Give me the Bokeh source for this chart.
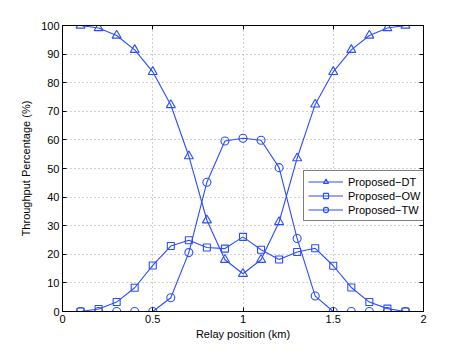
from bokeh.plotting import figure
from bokeh.models import LinearAxis, Legend, LegendItem, Range1d, FixedTicker
from bokeh.embed import file_html
from bokeh.resources import INLINE

relay_km = [0.1, 0.2, 0.3, 0.4, 0.5, 0.6, 0.7, 0.8, 0.9, 1.0,
            1.1, 1.2, 1.3, 1.4, 1.5, 1.6, 1.7, 1.8, 1.9]
proposed_dt = [100, 99.1, 96.5, 91.5, 83.8, 72.2, 54.3, 31.9, 18.1, 13.2,
               18.1, 31.3, 53.6, 72.4, 83.8, 91.5, 96.5, 99.1, 100]
proposed_ow = [0, 0.9, 3.3, 8.3, 16.1, 22.9, 24.9, 22.4, 22.0, 26.1,
               21.6, 18.2, 20.8, 22.1, 16.0, 8.4, 3.3, 1.0, 0]
proposed_tw = [0, 0, 0, 0, 0, 4.8, 20.6, 45.2, 59.6, 60.6,
               59.9, 50.3, 25.5, 5.4, 0, 0, 0, 0, 0]
series_names = ["Proposed\u2212DT", "Proposed\u2212OW", "Proposed\u2212TW"]
x_ticks = [0, 0.5, 1, 1.5, 2]
y_ticks = [0, 10, 20, 30, 40, 50, 60, 70, 80, 90, 100]

BLUE = "#2a4dff"
FONT = "Liberation Sans"

p = figure(width=459, height=343, output_backend="svg", toolbar_location=None,
           x_range=Range1d(0, 2), y_range=Range1d(0, 100),
           min_border_left=62, min_border_right=36, min_border_top=25, min_border_bottom=32)
p.xaxis.axis_label = "Relay position (km)"
p.yaxis.axis_label = "Throughput Percentage (%)"

for ax, ticks in ((p.xaxis, x_ticks), (p.yaxis, y_ticks)):
    ax.ticker = FixedTicker(ticks=ticks)
    ax.major_tick_in = 4
    ax.major_tick_out = 0
    ax.minor_tick_in = 0
    ax.minor_tick_out = 0
    ax.major_label_text_font = FONT
    ax.major_label_text_font_size = "11px"
    ax.major_label_text_color = "black"
    ax.axis_label_text_font = FONT
    ax.axis_label_text_font_size = "11px"
    ax.axis_label_text_font_style = "normal"
    ax.axis_label_text_color = "black"
    ax.axis_line_color = "black"
    ax.major_tick_line_color = "black"
p.xaxis.major_label_standoff = 3
p.yaxis.major_label_standoff = 3
p.xaxis.axis_label_standoff = 2
p.yaxis.axis_label_standoff = 6

for loc, ticks in (("right", y_ticks), ("above", x_ticks)):
    ax = LinearAxis(ticker=FixedTicker(ticks=ticks))
    ax.major_tick_in = 4
    ax.major_tick_out = 0
    ax.minor_tick_in = 0
    ax.minor_tick_out = 0
    ax.major_label_text_font_size = "0px"
    ax.major_label_text_alpha = 0
    ax.major_label_standoff = 0
    ax.axis_line_color = "black"
    ax.major_tick_line_color = "black"
    p.add_layout(ax, loc)

p.xgrid.ticker = FixedTicker(ticks=x_ticks)
p.ygrid.ticker = FixedTicker(ticks=y_ticks)
for g in (p.xgrid, p.ygrid):
    g.grid_line_color = "#a0a0a0"
    g.grid_line_dash = "1 3"
    g.grid_line_width = 1

p.outline_line_color = "black"
p.background_fill_color = "white"
p.border_fill_color = "white"

items = []
for ys, marker, size, name in ((proposed_dt, "triangle", 9, series_names[0]),
                               (proposed_ow, "square", 7, series_names[1]),
                               (proposed_tw, "circle", 8, series_names[2])):
    lr = p.line(relay_km, ys, line_color=BLUE, line_width=1.1)
    sr = p.scatter(relay_km, ys, marker=marker, size=size, fill_color=None,
                   line_color=BLUE, line_width=1.1)
    items.append(LegendItem(label=name, renderers=[lr, sr]))

legend = Legend(items=items, location=(241, 90))
legend.label_text_font = FONT
legend.label_text_font_size = "11px"
legend.label_text_color = "black"
legend.border_line_color = "black"
legend.border_line_width = 1
legend.background_fill_color = "white"
legend.background_fill_alpha = 1
legend.glyph_width = 35
legend.glyph_height = 13
legend.label_height = 13
legend.label_standoff = 5
legend.spacing = 1
legend.padding = 4
legend.margin = 0
p.add_layout(legend, "center")

open("out.html", "w").write(file_html(p, INLINE))
